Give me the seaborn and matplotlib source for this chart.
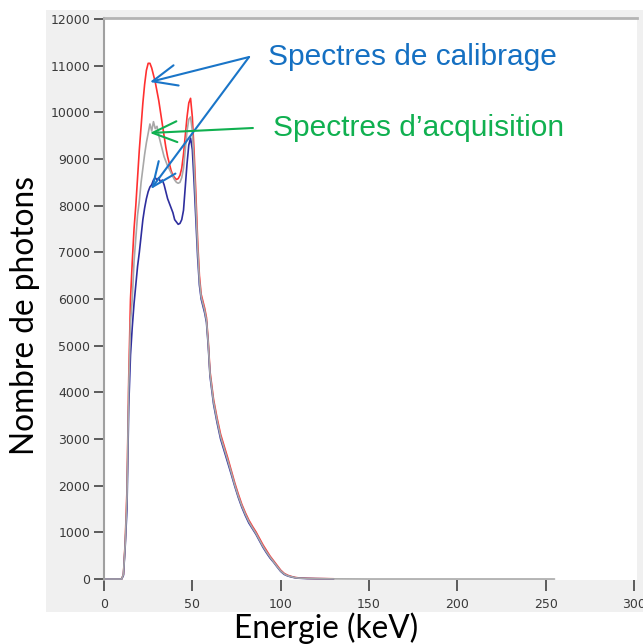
import numpy as np
import pandas as pd
import matplotlib
matplotlib.use("Agg")
import matplotlib.pyplot as plt
import seaborn as sns
from matplotlib.patches import Rectangle

# ---------------- data ----------------
energy = [0, 10] + list(range(11, 61)) + list(range(62, 111, 2)) + [115, 120, 125, 130]

red_counts = [0, 0,
    100, 800, 1900, 4300, 6000, 6800, 7500, 8000, 8600, 9200,
    9700, 10200, 10600, 10900, 11050, 11050, 10950, 10800, 10650, 10450,
    10250, 10000, 9750, 9500, 9250, 9050, 8900, 8750, 8650, 8600,
    8560, 8580, 8650, 8800, 9100, 9500, 9900, 10200, 10300, 9900,
    9150, 8250, 7250, 6500, 6100, 5950, 5800, 5600, 5100, 4450,
    3850, 3450, 3100, 2850, 2600, 2330, 2060, 1820, 1600, 1420,
    1260, 1130, 1010, 870, 730, 610, 490, 390, 290, 190,
    120, 80, 55, 35, 25,
    15, 10, 8, 5]

gray_counts = [0, 0,
    100, 750, 1750, 4100, 5500, 6000, 6800, 7300, 7800, 8100,
    8500, 8800, 9100, 9350, 9550, 9750, 9600, 9800, 9650, 9700,
    9500, 9350, 9200, 9050, 8950, 8850, 8780, 8700, 8620, 8550,
    8500, 8480, 8500, 8600, 8800, 9200, 9600, 9850, 9900, 9600,
    8900, 8000, 7100, 6400, 6050, 5900, 5750, 5550, 5050, 4400,
    3800, 3400, 3050, 2800, 2550, 2290, 2020, 1780, 1570, 1390,
    1230, 1100, 980, 840, 700, 580, 470, 370, 270, 175,
    110, 70, 50, 30, 20,
    12, 8, 5, 3]
gray_tail_energy = [150, 200, 255]
gray_tail_counts = [0, 0, 0]

blue_counts = [0, 0,
    80, 700, 1500, 3700, 4800, 5400, 5900, 6300, 6700, 7000,
    7350, 7700, 7950, 8150, 8300, 8400, 8450, 8550, 8600, 8550,
    8600, 8500, 8550, 8450, 8300, 8150, 8050, 7950, 7850, 7700,
    7650, 7600, 7620, 7700, 7900, 8400, 8900, 9300, 9450, 9200,
    8500, 7700, 6900, 6300, 6000, 5850, 5700, 5500, 5000, 4350,
    3750, 3350, 3000, 2750, 2500, 2250, 1990, 1750, 1540, 1360,
    1200, 1080, 960, 820, 680, 560, 450, 360, 260, 165,
    100, 65, 45, 28, 18,
    10, 7, 5, 3]

x_ticks = [0, 50, 100, 150, 200, 250, 300]
y_ticks = list(range(0, 12001, 1000))

label_calib = "Spectres de calibrage"
label_acq = "Spectres d\u2019acquisition"
x_label = "Energie (keV)"
y_label = "Nombre de photons"

df_red = pd.DataFrame({"E": energy, "N": red_counts})
df_blue = pd.DataFrame({"E": energy, "N": blue_counts})
df_gray = pd.DataFrame({"E": energy + gray_tail_energy, "N": gray_counts + gray_tail_counts})

# ---------------- figure ----------------
sns.set_theme(style="white")
plt.rcParams["font.family"] = ["DejaVu Sans"]

W, H = 643, 644
fig = plt.figure(figsize=(W / 100, H / 100), dpi=100)
fig.patch.set_facecolor("white")
fig.patches.append(Rectangle((46 / W, 1 - 612 / H), (W - 46) / W, (612 - 10) / H,
                             transform=fig.transFigure, facecolor="#f0f0f0",
                             edgecolor="none", zorder=-5))

ax = fig.add_axes([104 / W, 1 - 580 / H, (637 - 104) / W, (580 - 18) / H])
ax.set_facecolor("white")

lw = 1.2
sns.lineplot(data=df_red, x="E", y="N", color="#ff3030", lw=lw, ax=ax,
             estimator=None, sort=False)
sns.lineplot(data=df_blue, x="E", y="N", color="#2e2e9e", lw=lw, ax=ax,
             estimator=None, sort=False)
sns.lineplot(data=df_gray, x="E", y="N", color="#a8a8a8", lw=lw, ax=ax,
             estimator=None, sort=False)

ax.set_xlim(0, 301.7)
ax.set_ylim(-21, 12021)
ax.set_xticks(x_ticks)
ax.set_yticks(y_ticks)
ax.set_xlabel("")
ax.set_ylabel("")
ax.tick_params(axis="both", bottom=True, left=True, direction="out",
               color="#505050", width=1.3, labelsize=9, labelcolor="#3a3a3a")
ax.tick_params(axis="y", length=7, pad=3)
ax.tick_params(axis="x", length=8, pad=5)

for side in ["right", "bottom"]:
    ax.spines[side].set_visible(False)
ax.spines["left"].set_color("#a0a0a0")
ax.spines["left"].set_linewidth(1.5)
ax.spines["top"].set_color("#b4b4b4")
ax.spines["top"].set_linewidth(2)

fig.text(25 / W, 1 - 316 / H, y_label, rotation=90, ha="center", va="center",
         fontsize=22.8, color="black", family=["Lato", "DejaVu Sans"])
fig.text(326 / W, 1 - 628 / H, x_label, ha="center", va="center",
         fontsize=22.8, color="black", family=["Lato", "DejaVu Sans"])

blue_c = "#1a75c8"
green_c = "#10b050"
ax.text(92.8, 11185, label_calib, color="#1570c2", fontsize=21.5,
        family=["Liberation Sans", "DejaVu Sans"], ha="left", va="center")
ax.text(95.6, 9664, label_acq, color=green_c, fontsize=21.5,
        family=["Liberation Sans", "DejaVu Sans"], ha="left", va="center")

astyle = "->,head_length=0.7,head_width=0.3"
for tip in [(26.0, 10650), (26.6, 8357)]:
    ax.annotate("", xy=tip, xytext=(82.1, 11185),
                arrowprops=dict(arrowstyle=astyle, color=blue_c, lw=1.5,
                                mutation_scale=25, shrinkA=0, shrinkB=0))
ax.annotate("", xy=(26.0, 9557), xytext=(84.3, 9664),
            arrowprops=dict(arrowstyle=astyle, color=green_c, lw=1.5,
                            mutation_scale=25, shrinkA=0, shrinkB=0))

fig.savefig("out.png", dpi=100)
